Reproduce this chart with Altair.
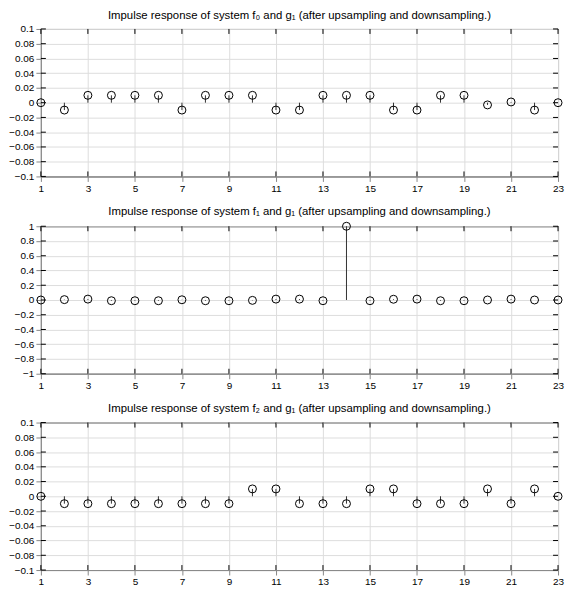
import altair as alt
import pandas as pd

n = list(range(1, 24))
h_f0 = [0, -0.01, 0.01, 0.01, 0.01, 0.01, -0.01, 0.01, 0.01, 0.01, -0.01, -0.01,
        0.01, 0.01, 0.01, -0.01, -0.01, 0.01, 0.01, -0.003, 0.001, -0.01, 0]
h_f1 = [0, 0.005, 0.012, -0.01, -0.01, -0.01, 0.003, -0.01, -0.01, -0.005, 0.012, 0.012,
        -0.01, 1, -0.01, 0.01, 0.012, -0.01, -0.01, 0, 0.012, 0, 0]
h_f2 = [0, -0.01, -0.01, -0.01, -0.01, -0.01, -0.01, -0.01, -0.01, 0.01, 0.01, -0.01,
        -0.01, -0.01, 0.01, 0.01, -0.01, -0.01, -0.01, 0.01, -0.01, 0.01, 0]

titles = [
    "Impulse response of system f\u2080 and g\u2081 (after upsampling and downsampling.)",
    "Impulse response of system f\u2081 and g\u2081 (after upsampling and downsampling.)",
    "Impulse response of system f\u2082 and g\u2081 (after upsampling and downsampling.)",
]
x_ticks = [1, 3, 5, 7, 9, 11, 13, 15, 17, 19, 21, 23]
y_ticks_small = [-0.1, -0.08, -0.06, -0.04, -0.02, 0, 0.02, 0.04, 0.06, 0.08, 0.1]
y_ticks_big = [-1, -0.8, -0.6, -0.4, -0.2, 0, 0.2, 0.4, 0.6, 0.8, 1]

W, H = 519, 148
TL = 5
FONT = "Liberation Sans"


def panel(vals, title, ydom, yticks):
    df = pd.DataFrame({"n": n, "h": vals})
    xt = pd.DataFrame({"n": x_ticks})
    yt = pd.DataFrame({"h": yticks})
    xscale = alt.Scale(domain=[1, 23], nice=False, zero=False)
    yscale = alt.Scale(domain=ydom, nice=False, zero=False)
    xaxis = alt.Axis(values=x_ticks, grid=True, labelFlush=False)
    yaxis = alt.Axis(values=yticks, grid=True, format="~g")
    X = alt.X("n:Q", scale=xscale, axis=xaxis, title=None)
    Y = alt.Y("h:Q", scale=yscale, axis=yaxis, title=None)

    stems = alt.Chart(df).mark_rule(color="#333", strokeWidth=1).encode(
        x=X, y=Y, y2=alt.datum(0),
    )
    pts = alt.Chart(df).mark_point(shape="circle", filled=False, size=64,
                                   color="black", strokeWidth=1, opacity=1).encode(
        x=X, y=Y,
    )
    xt_bot = alt.Chart(xt).mark_rule(color="black", strokeWidth=1).encode(
        x=X, y=alt.value(H), y2=alt.value(H - TL),
    )
    xt_top = alt.Chart(xt).mark_rule(color="black", strokeWidth=1).encode(
        x=X, y=alt.value(0), y2=alt.value(TL),
    )
    yt_l = alt.Chart(yt).mark_rule(color="black", strokeWidth=1).encode(
        y=Y, x=alt.value(0), x2=alt.value(TL),
    )
    yt_r = alt.Chart(yt).mark_rule(color="black", strokeWidth=1).encode(
        y=Y, x=alt.value(W), x2=alt.value(W - TL),
    )
    return alt.layer(stems, pts, xt_bot, xt_top, yt_l, yt_r).properties(
        width=W, height=H,
        view=alt.ViewConfig(stroke="black", strokeWidth=1),
        title=alt.TitleParams(title, fontSize=11.4, font=FONT, fontWeight="normal",
                              offset=3, anchor="middle", color="black"),
    )


chart = alt.vconcat(
    panel(h_f0, titles[0], [-0.1, 0.1], y_ticks_small),
    panel(h_f1, titles[1], [-1, 1], y_ticks_big),
    panel(h_f2, titles[2], [-0.1, 0.1], y_ticks_small),
    spacing=11,
).properties(
    padding={"left": 0, "top": 0, "right": 5, "bottom": 0},
).configure_view(
    stroke="black", strokeWidth=1,
).configure_axis(
    domain=False, ticks=False, labelPadding=3,
    labelFont=FONT, labelFontSize=12, labelColor="black",
    gridColor="#777", gridDash=[1, 3], gridWidth=1, gridOpacity=1,
).configure_axisY(
    minExtent=36, maxExtent=36,
).configure(background="white")

chart.save("out.html", embed_options={"renderer": "svg", "actions": False})
